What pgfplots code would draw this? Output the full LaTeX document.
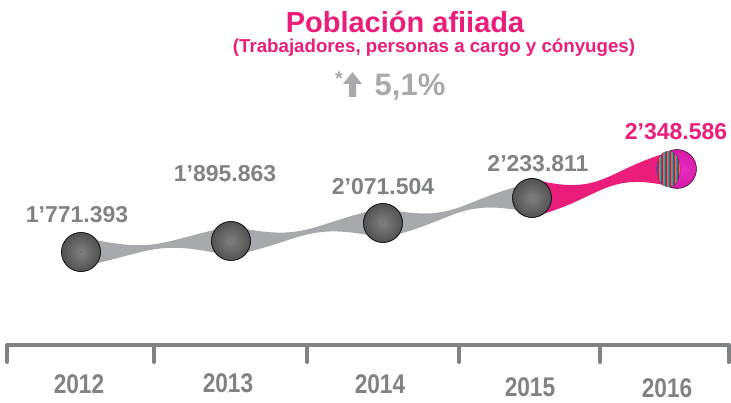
\documentclass[border=0pt]{standalone}
\usepackage{fontspec}
\setmainfont{Liberation Sans}
\usepackage{pgfplots}
\usepackage{pgfplotstable}
\pgfplotsset{compat=1.18}

\definecolor{pinkA}{RGB}{234,30,122}
\definecolor{txtgray}{RGB}{128,130,133}
\definecolor{ltgray}{RGB}{167,169,172}
\definecolor{bandgray}{RGB}{168,169,172}
\definecolor{axgray}{RGB}{128,129,131}
\definecolor{pkhi}{RGB}{232,44,196}
\definecolor{pkmid}{RGB}{214,26,164}
\definecolor{pklo}{RGB}{168,14,118}
\definecolor{stG}{RGB}{90,160,70}
\definecolor{stB}{RGB}{70,80,190}
\definecolor{stP}{RGB}{150,40,140}
\definecolor{stO}{RGB}{210,120,40}

\pgfdeclareradialshading{bub}{\pgfpointorigin}{color(0bp)=(black!50); color(28bp)=(black!70); color(50bp)=(black!93)}
\pgfdeclareradialshading{pinkbub}{\pgfpoint{8bp}{0bp}}{color(0bp)=(pkhi); color(24bp)=(pkmid); color(50bp)=(pklo)}

% bubble positions (px from bottom-left) and the printed values
\pgfplotstableread{
x   y    lx   ly   lab
81  150  77   179  1’771.393
231 161  225  220  1’895.863
383 179  383  207  2’071.504
532 204  538  230  2’233.811
677 233  676  262  2’348.586
}\bubbles

\pgfplotstableread{
x   y  lab
79  9  2012
228 10 2013
380 9  2014
530 6  2015
667 5  2016
}\years

\newcommand\getpt[2]{%
  \pgfplotstablegetelem{#1}{x}\of\bubbles\expandafter\let\csname px#2\endcsname\pgfplotsretval
  \pgfplotstablegetelem{#1}{y}\of\bubbles\expandafter\let\csname py#2\endcsname\pgfplotsretval}
\getpt{0}{A}\getpt{1}{B}\getpt{2}{C}\getpt{3}{D}\getpt{4}{E}

% tapered S-band between two bubbles: x0 y0 x1 y1 halfwidth pinch colour
\newcommand\band[7]{%
  \fill[#7] (axis cs:#1,{#2+#5}) .. controls (axis cs:{(#1+#3)/2},{#2+#6}) and (axis cs:{(#1+#3)/2},{#4+#6}) .. (axis cs:#3,{#4+#5})
    -- (axis cs:#3,{#4-#5}) .. controls (axis cs:{(#1+#3)/2},{#4-#6}) and (axis cs:{(#1+#3)/2},{#2-#6}) .. (axis cs:#1,{#2-#5}) -- cycle;}

\begin{document}
\begin{tikzpicture}
\begin{axis}[
    width=731pt, height=402pt, scale only axis,
    xmin=0, xmax=731, ymin=0, ymax=402,
    axis lines=none, clip=false,
]
\coordinate (sw) at (rel axis cs:0,0);
\coordinate (ne) at (rel axis cs:1,1);

% titles
\node[text=pinkA, font=\bfseries\fontsize{29}{30}\selectfont, anchor=base] at (axis cs:405,369) {Población afiiada};
\node[text=pinkA, font=\bfseries\fontsize{18.7}{20}\selectfont, anchor=base] at (axis cs:434,349) {(Trabajadores, personas a cargo y cónyuges)};
\node[text=ltgray, font=\bfseries\fontsize{31}{32}\selectfont, anchor=base] at (axis cs:410,306) {5,1\%};
\node[text=ltgray, font=\bfseries\fontsize{20}{20}\selectfont] at (axis cs:339,323) {*};
\fill[ltgray] (axis cs:352.5,330) -- (axis cs:362,318) -- (axis cs:356,318) -- (axis cs:356,305)
  -- (axis cs:349,305) -- (axis cs:349,318) -- (axis cs:343,318) -- cycle;

% base line with ticks
\addplot[axgray, line width=4pt, line cap=round, line join=round, unbounded coords=jump] coordinates {
  (7,40) (7,57) (728.5,57) (728.5,40) (nan,nan)
  (154,57) (154,40) (nan,nan)
  (307,57) (307,40) (nan,nan)
  (459,57) (459,40) (nan,nan)
  (600,57) (600,40)
};

% bands
\band{\pxA}{\pyA}{\pxB}{\pyB}{15}{-1.6}{bandgray}
\band{\pxB}{\pyB}{\pxC}{\pyC}{15}{-1.6}{bandgray}
\band{\pxC}{\pyC}{\pxD}{\pyD}{15}{-1.6}{bandgray}
\band{\pxD}{\pyD}{\pxE}{\pyE}{19}{0.3}{pinkA}

% grey bubbles
\addplot[only marks, mark=*, mark size=0.1pt, mark options={draw=none, fill=none},
  scatter, skip coords between index={4}{5},
  scatter/@pre marker code/.code={%
    \shade[shading=bub] (0,0) circle (19.5pt);
    \draw[black!90, line width=0.7pt] (0,0) circle (19.5pt);},
  scatter/@post marker code/.code={}]
  table[x=x, y=y] {\bubbles};

% last bubble, pink with striped inset
\addplot[only marks, mark=*, mark size=0.1pt, mark options={draw=none, fill=none},
  scatter, skip coords between index={0}{4},
  scatter/@pre marker code/.code={%
    \shade[shading=pinkbub] (0,0) circle (19.5pt);
    \begin{scope}
      \clip (-8.5pt,0pt) ellipse (11.5pt and 18pt);
      \foreach \k in {-21,-17,-13,-9,-5,-1,3} {
        \fill[stG] (\k pt,-20pt) rectangle ++(1pt,40pt);
        \fill[stB] (\k pt+1pt,-20pt) rectangle ++(1pt,40pt);
        \fill[stP] (\k pt+2pt,-20pt) rectangle ++(1pt,40pt);
        \fill[stO] (\k pt+3pt,-20pt) rectangle ++(1pt,40pt);
      }
    \end{scope}},
  scatter/@post marker code/.code={}]
  table[x=x, y=y] {\bubbles};

% value labels
\addplot[only marks, mark=*, mark size=0.1pt, draw=none, fill=none,
  skip coords between index={4}{5},
  nodes near coords, point meta=explicit symbolic,
  nodes near coords style={anchor=base, text=txtgray, font=\bfseries\fontsize{23}{24}\selectfont, inner sep=0pt}]
  table[x=lx, y=ly, meta=lab] {\bubbles};
\addplot[only marks, mark=*, mark size=0.1pt, draw=none, fill=none,
  skip coords between index={0}{4},
  nodes near coords, point meta=explicit symbolic,
  nodes near coords style={anchor=base, text=pinkA, font=\bfseries\fontsize{23}{24}\selectfont, inner sep=0pt}]
  table[x=lx, y=ly, meta=lab] {\bubbles};

% year labels
\addplot[only marks, mark=*, mark size=0.1pt, draw=none, fill=none,
  nodes near coords={\scalebox{0.84}[1]{\pgfplotspointmeta}}, point meta=explicit symbolic,
  nodes near coords style={anchor=base, text=txtgray, font=\bfseries\fontsize{27}{28}\selectfont, inner sep=0pt}]
  table[x=x, y=y, meta=lab] {\years};
\end{axis}
\pgfresetboundingbox
\path (sw) rectangle (ne);
\end{tikzpicture}
\end{document}
